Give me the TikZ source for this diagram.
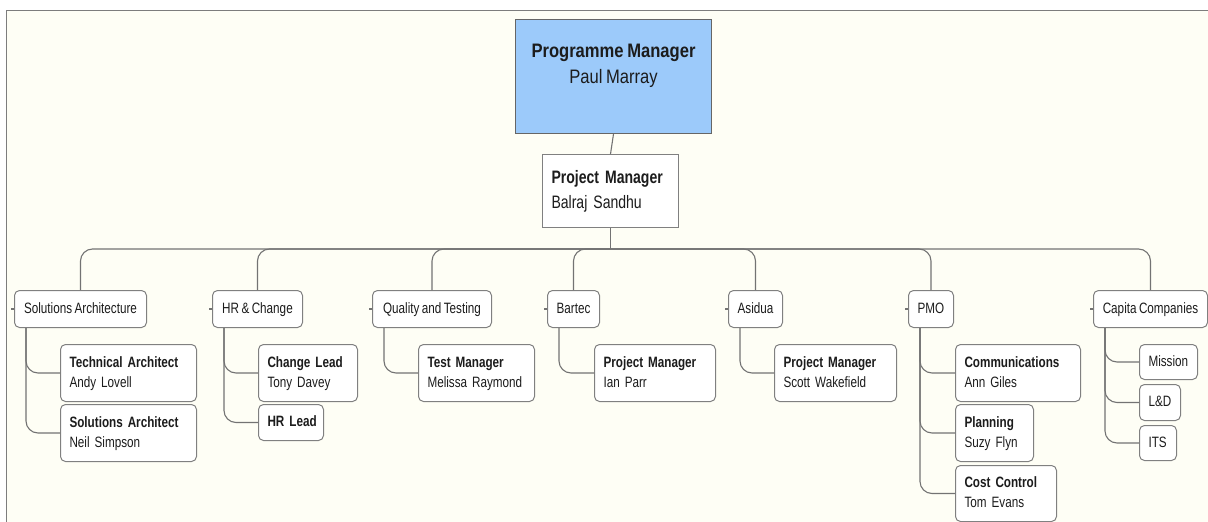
\documentclass[tikz,border=0pt]{standalone}
\usepackage{fontspec}
\setmainfont[FakeStretch=0.78, WordSpace=0.75]{Liberation Sans}
\newfontfamily\headfont[FakeStretch=0.85, WordSpace=0.8]{Liberation Sans}
\definecolor{bg}{RGB}{254,254,245}
\definecolor{headblue}{RGB}{156,202,250}
\definecolor{boxc}{RGB}{128,128,128}
\definecolor{linec}{RGB}{115,115,115}
\definecolor{framec}{RGB}{125,125,125}
\definecolor{txt}{RGB}{28,28,28}
% a role: bold title over a name, each line strutted for even spacing
\newcommand\role[2]{\mbox{\strut\textbf{#1}}\\\mbox{\strut#2}}
\newcommand\solo[1]{\mbox{\strut#1}}
\tikzset{
  conn/.style={draw=linec, line width=1.1pt},
  base/.style={draw=boxc, line width=1pt, fill=white, text=txt, anchor=north west, inner ysep=0pt},
  headbox/.style={base, draw=black!60, fill=headblue, align=center, inner xsep=0pt,
    font=\headfont\fontsize{19.5}{26}\selectfont},
  pmbox/.style={base, align=left, inner xsep=9pt, font=\fontsize{18}{25}\selectfont},
  catbox/.style={base, rounded corners=5pt, align=center, inner xsep=4pt,
    minimum height=37, font=\fontsize{15}{20}\selectfont},
  leaf/.style={base, rounded corners=5pt, align=left, inner xsep=9pt,
    font=\fontsize{15}{20}\selectfont},
}
\begin{document}
\begin{tikzpicture}[x=1pt, y=-1pt]
  \useasboundingbox (0,0) rectangle (1208,522);
  % canvas and frame
  \fill[white] (0,0) rectangle (1208,522);
  \fill[bg] (6.5,10.5) rectangle (1208,522);
  \draw[framec, line width=1.5pt] (6.5,522) -- (6.5,10.5) -- (1208,10.5);

  % top of the hierarchy
  \node[headbox, minimum width=196, minimum height=114] (pgm) at (515,19)
    {\textbf{Programme Manager}\\Paul Marray\\\mbox{}};
  \node[pmbox, minimum width=136, minimum height=73, text width=118] (pjm) at (542,154)
    {\role{Project Manager}{Balraj Sandhu}};

  % workstreams
  \node[catbox, minimum width=132] (sol) at (14,290) {\solo{Solutions Architecture}};
  \node[catbox, minimum width=90]  (hrc) at (212,290) {\solo{HR \& Change}};
  \node[catbox, minimum width=119] (qat) at (372,290) {\solo{Quality and Testing}};
  \node[catbox, minimum width=52]  (bar) at (547,290) {\solo{Bartec}};
  \node[catbox, minimum width=54]  (asi) at (728,290) {\solo{Asidua}};
  \node[catbox, minimum width=45]  (pmo) at (908,290) {\solo{PMO}};
  \node[catbox, minimum width=114] (cap) at (1093,290) {\solo{Capita Companies}};

  % roles
  \node[leaf, minimum width=136, minimum height=57, text width=118] (ta) at (60,344) {\role{Technical Architect}{Andy Lovell}};
  \node[leaf, minimum width=136, minimum height=57, text width=118] (sa) at (60,404) {\role{Solutions Architect}{Neil Simpson}};
  \node[leaf, minimum width=99, minimum height=57, text width=81] (cl) at (258,344) {\role{Change Lead}{Tony Davey}};
  \node[leaf, minimum width=65, minimum height=36, text width=47] (hrl) at (258,404) {\solo{\textbf{HR Lead}}};
  \node[leaf, minimum width=116, minimum height=57, text width=98] (tm) at (418,344) {\role{Test Manager}{Melissa Raymond}};
  \node[leaf, minimum width=121, minimum height=57, text width=103] (ip) at (594,344) {\role{Project Manager}{Ian Parr}};
  \node[leaf, minimum width=122, minimum height=57, text width=104] (sw) at (774,344) {\role{Project Manager}{Scott Wakefield}};
  \node[leaf, minimum width=125, minimum height=57, text width=107] (com) at (955,344) {\role{Communications}{Ann Giles}};
  \node[leaf, minimum width=78, minimum height=57, text width=60] (pln) at (955,404) {\role{Planning}{Suzy Flyn}};
  \node[leaf, minimum width=101, minimum height=56, text width=83] (cc) at (955,465) {\role{Cost Control}{Tom Evans}};
  \node[leaf, minimum width=58, minimum height=35, text width=40] (mis) at (1139,344) {\solo{Mission}};
  \node[leaf, minimum width=41, minimum height=36, text width=23] (lnd) at (1139,384) {\solo{L\&D}};
  \node[leaf, minimum width=37, minimum height=35, text width=19] (its) at (1139,425) {\solo{ITS}};

  % reporting lines
  \draw[conn] (pgm.south) -- (pjm.north);
  \coordinate (hub) at (pjm.south |- 0,249);
  \draw[conn] (pjm.south) -- (hub);
  \foreach \c in {sol,hrc,qat,bar,asi,pmo,cap}{
    \draw[conn, rounded corners=12pt] (hub) -| (\c.north);
    \draw[conn] (\c.west) -- ++(-3,0);
  }
  \foreach \p/\k in {sol/ta, sol/sa, hrc/cl, hrc/hrl, qat/tm, bar/ip, asi/sw,
                     pmo/com, pmo/pln, pmo/cc, cap/mis, cap/lnd, cap/its}{
    \draw[conn, rounded corners=12pt] ([xshift=12pt]\p.south west) |- (\k.west);
  }
\end{tikzpicture}
\end{document}
